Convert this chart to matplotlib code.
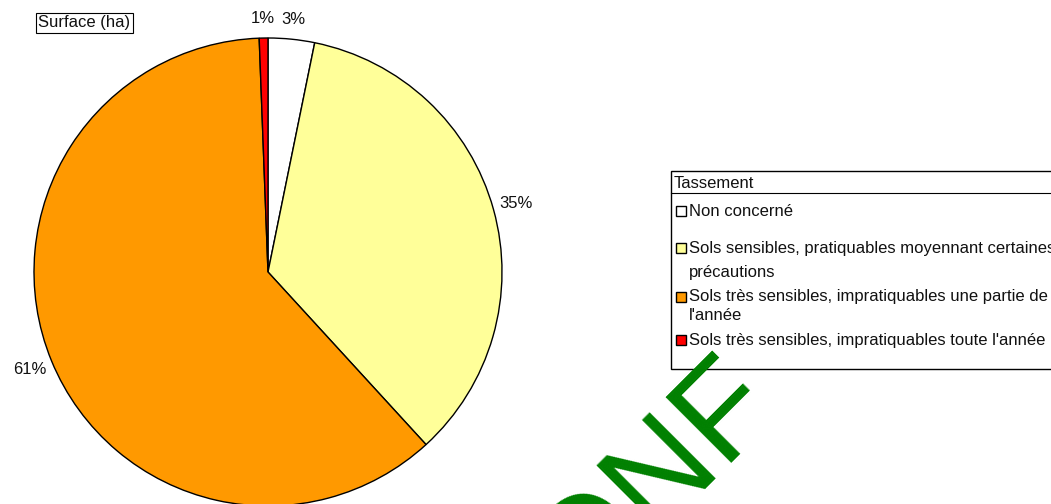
import matplotlib.pyplot as plt
from matplotlib.patches import Rectangle

plt.rcParams['font.family'] = ['Liberation Sans', 'DejaVu Sans']

categories = ["Non concerné",
              "Sols sensibles, pratiquables moyennant certaines précautions",
              "Sols très sensibles, impratiquables une partie de l'année",
              "Sols très sensibles, impratiquables toute l'année"]
legend_lines = [["Non concerné"],
                ["Sols sensibles, pratiquables moyennant certaines", "précautions"],
                ["Sols très sensibles, impratiquables une partie de", "l'année"],
                ["Sols très sensibles, impratiquables toute l'année"]]
surface_pct = [3.2, 35.0, 61.2, 0.6]
colors = ["#FFFFFF", "#FFFF99", "#FF9900", "#FF0000"]

W, H = 1051, 504
fig = plt.figure(figsize=(W / 100, H / 100), dpi=100)

# pie axes: centre (268, 272) px from top, radius 234 px
cx, cy, r = 268, 272, 234
ax = fig.add_axes([(cx - r) / W, (H - cy - r) / H, 2 * r / W, 2 * r / H])

wedges, texts = ax.pie(surface_pct, colors=colors, startangle=90, counterclock=False,
                       radius=1.0, wedgeprops=dict(edgecolor='black', linewidth=1.0),
                       labels=[f"{round(v):.0f}%" for v in surface_pct],
                       labeldistance=1.1, textprops=dict(fontsize=12, color='#111111'))
ax.set_xlim(-1, 1)
ax.set_ylim(-1, 1)
ax.axis('off')
for t in texts:
    t.set_ha('center')
    t.set_va('center')
    t.set_clip_on(False)
    x, y = t.get_position()
    if y > 0.95:  # the two small slices at the top sit a bit lower
        t.set_position((x, y - 0.015))

# title box
fig.text(38 / W, 1 - 23 / H, "Surface (ha)", fontsize=12, ha='left', va='center',
         color='#111111',
         bbox=dict(boxstyle='square,pad=0.15', fc='white', ec='black', lw=0.8))

# legend drawn by hand
lx0, ly0, ly1 = 671, 171, 369
fig.patches.append(Rectangle((lx0 / W, 1 - ly1 / H), (W + 5 - lx0) / W, (ly1 - ly0) / H,
                             transform=fig.transFigure, fc='white', ec='black', lw=1.0,
                             zorder=1))
fig.add_artist(plt.Line2D([lx0 / W, 1.0], [1 - 193 / H, 1 - 193 / H],
                          transform=fig.transFigure, color='black', lw=0.8))
fig.text(674 / W, 1 - 184 / H, "Tassement", fontsize=12, ha='left', va='center',
         color='#111111')
entry_y = [[211], [248, 272], [297, 315], [340]]
for lines, col, ys in zip(legend_lines, colors, entry_y):
    fig.patches.append(Rectangle((676 / W, 1 - (ys[0] + 5) / H), 10 / W, 10 / H,
                                 transform=fig.transFigure, fc=col, ec='black', lw=1.0,
                                 zorder=2))
    for line, y in zip(lines, ys):
        fig.text(689 / W, 1 - y / H, line, fontsize=12, ha='left', va='center',
                 color='#111111')

# watermark
fig.text(656 / W, 1 - 483 / H, "ONF", fontsize=97, color='#008000', rotation=45,
         ha='center', va='center', zorder=5)

fig.savefig("out.png", dpi=100)
